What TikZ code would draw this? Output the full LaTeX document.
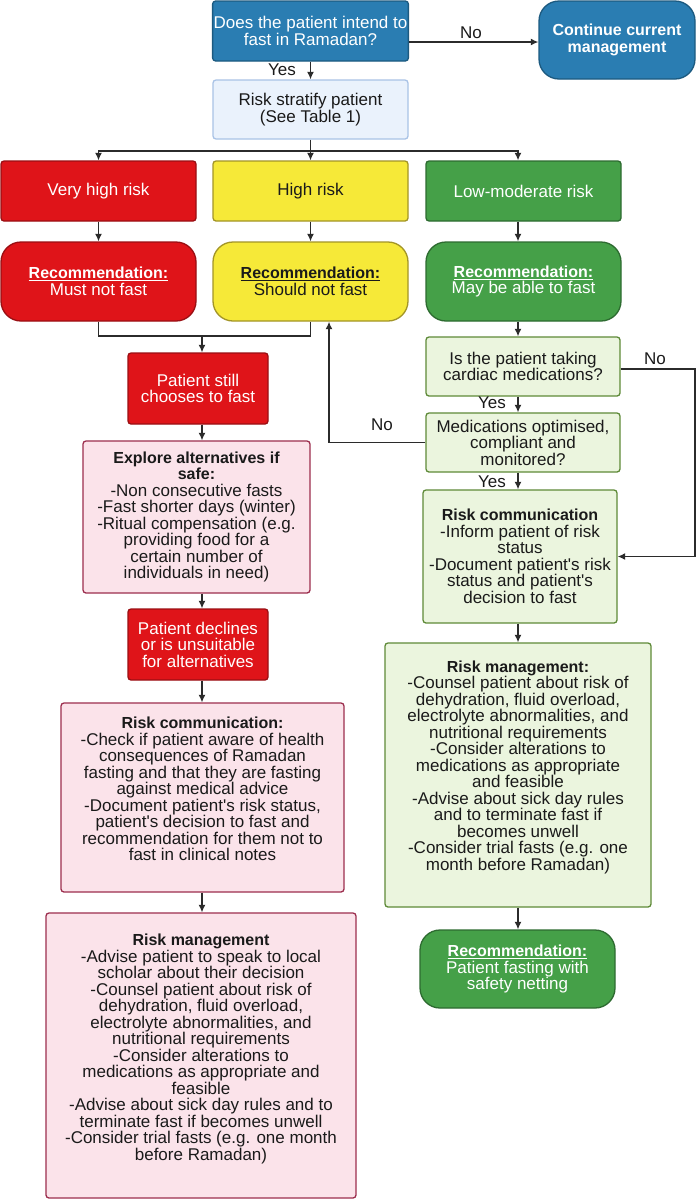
\documentclass[tikz,border=0pt]{standalone}
\usepackage{fontspec}
\newfontfamily\bodyfont{Liberation Sans}
\usetikzlibrary{arrows.meta}
\definecolor{txtC}{HTML}{1A1A1A}
\definecolor{lineC}{HTML}{2B2B2B}
\definecolor{blueF}{HTML}{2A7DB2}
\definecolor{blueD}{HTML}{1C5A80}
\definecolor{lblueF}{HTML}{EAF2FC}
\definecolor{lblueD}{HTML}{A9C3E6}
\definecolor{redF}{HTML}{DF1419}
\definecolor{redD}{HTML}{9A0F13}
\definecolor{yelF}{HTML}{F6E938}
\definecolor{yelD}{HTML}{A39527}
\definecolor{grnF}{HTML}{45A048}
\definecolor{grnD}{HTML}{2D6B30}
\definecolor{lgrnF}{HTML}{EBF5DE}
\definecolor{lgrnD}{HTML}{5E8A38}
\definecolor{pinkF}{HTML}{FBE3EA}
\definecolor{pinkD}{HTML}{9C2E4E}
\newcommand\myfs{\bodyfont\fontsize{17}{16.5}\selectfont}
\newcommand\hb[1]{{\fontsize{16}{16.5}\selectfont\textbf{#1}}}
\tikzset{
  box/.style={draw, line width=1.3pt, rounded corners=3pt, align=center, inner sep=1pt, font=\myfs, text=txtC},
  rbox/.style={box, rounded corners=20pt},
  wh/.style 2 args={minimum width=#1pt, minimum height=#2pt},
  tx/.style={align=center, inner sep=0pt, font=\myfs, text=txtC},
  ln/.style={line width=1.4pt, draw=lineC},
  arr/.style={ln, -{Latex[length=7.5pt,width=7pt]}},
  lab/.style={inner sep=0pt, font=\myfs, text=txtC}
}
\begin{document}
\begin{tikzpicture}[x=1pt,y=-1pt]
\useasboundingbox (0,0) rectangle (697,1200);
\fill[white] (0,0) rectangle (697,1200);

% top row
\node[box, wh={195}{60}, fill=blueF, draw=blueD, text=white] (top) at (310.5,31) {Does the patient intend to\\fast in Ramadan?};
\node[rbox, wh={156}{78}, fill=blueF, draw=blueD, text=white, font=\bodyfont\fontsize{16}{17}\selectfont\bfseries] (cont) at (617,40) {Continue current\\management};
\node[box, wh={195}{59}, fill=lblueF, draw=lblueD] (strat) at (310.5,109.5) {Risk stratify patient\\(See Table 1)};

% risk levels
\node[box, wh={195}{60}, fill=redF, draw=redD, text=white] (vh) at (98.5,191) {Very high risk};
\node[box, wh={195}{60}, fill=yelF, draw=yelD] (hi) at (310.5,191) {High risk};
\node[box, wh={195}{60}, fill=grnF, draw=grnD, text=white] (lm) at (523.5,191) {Low-moderate risk};

\node[rbox, wh={195}{79}, fill=redF, draw=redD, text=white] (vhrec) at (98.5,281.5) {\underline{\hb{Recommendation:}}\\Must not fast};
\node[rbox, wh={195}{79}, fill=yelF, draw=yelD] (hirec) at (310.5,281.5) {\underline{\hb{Recommendation:}}\\Should not fast};
\node[rbox, wh={195}{79}, fill=grnF, draw=grnD, text=white] (lmrec) at (523.5,281.5) {\underline{\hb{Recommendation:}}\\May be able to fast};

% right column
\node[box, wh={194}{59}, fill=lgrnF, draw=lgrnD] (cardiac) at (523,366.5) {Is the patient taking\\cardiac medications?};
\node[box, wh={194}{59}, fill=lgrnF, draw=lgrnD] (medopt) at (523,442.5) {Medications optimised,\\compliant and\\monitored?};
\node[box, wh={194}{133}, fill=lgrnF, draw=lgrnD] (rcR) at (520,556.5) {\hb{Risk communication}\\-Inform patient of risk\\status\\-Document patient's risk\\status and patient's\\decision to fast};
\node[box, wh={266}{264}, fill=lgrnF, draw=lgrnD] (rmR) at (518,775) {};
\node[tx] (rmRt) at (518,767) {\hb{Risk management:}\\-Counsel patient about risk of\\dehydration, fluid overload,\\electrolyte abnormalities, and\\nutritional requirements\\-Consider alterations to\\medications as appropriate\\and feasible\\-Advise about sick day rules\\and to terminate fast if\\becomes unwell\\-Consider trial fasts (e.g. one\\month before Ramadan)};
\node[rbox, wh={195}{78}, fill=grnF, draw=grnD, text=white] (recF) at (517.5,969) {\underline{\hb{Recommendation:}}\\Patient fasting with\\safety netting};

% left column
\node[box, wh={140}{71}, fill=redF, draw=redD, text=white] (still) at (198,388.5) {Patient still\\chooses to fast};
\node[box, wh={227}{152}, fill=pinkF, draw=pinkD] (explore) at (196.5,517) {\hb{Explore alternatives if}\\\hb{safe:}\\-Non consecutive fasts\\-Fast shorter days (winter)\\-Ritual compensation (e.g.\\providing food for a\\certain number of\\individuals in need)};
\node[box, wh={140}{71}, fill=redF, draw=redD, text=white] (declines) at (198,644.5) {Patient declines\\or is unsuitable\\for alternatives};
\node[box, wh={283}{189}, fill=pinkF, draw=pinkD] (rcL) at (202.5,797.5) {};
\node[tx] (rcLt) at (202.5,789) {\hb{Risk communication:}\\-Check if patient aware of health\\consequences of Ramadan\\fasting and that they are fasting\\against medical advice\\-Document patient's risk status,\\patient's decision to fast and\\recommendation for them not to\\fast in clinical notes};
\node[box, wh={310}{285}, fill=pinkF, draw=pinkD] (rmL) at (201,1055.5) {};
\node[tx] (rmLt) at (201,1049) {\hb{Risk management}\\-Advise patient to speak to local\\scholar about their decision\\-Counsel patient about risk of\\dehydration, fluid overload,\\electrolyte abnormalities, and\\nutritional requirements\\-Consider alterations to\\medications as appropriate and\\feasible\\-Advise about sick day rules and to\\terminate fast if becomes unwell\\-Consider trial fasts (e.g. one month\\before Ramadan)};

% helper coordinates
\coordinate (colL) at (202,0);
\coordinate (colR) at (518,0);
\coordinate (split) at (310.5,151);
\coordinate (mrg) at (202,336);
\coordinate (rr) at (695,0);

% connectors
\draw[arr] ([yshift=-11pt]top.east) -- ([yshift=-11pt]top.east -| cont.west);
\node[lab] (lno1) at (471,33) {No};
\draw[arr] (top.south) -- (strat.north);
\node[lab] (lyes1) at (282,70) {Yes};
\draw[ln] (strat.south) -- (split);
\draw[arr] (split) -| (vh.north);
\draw[arr] (split) -- (hi.north);
\draw[arr] (split) -| (lm.north -| colR);

\draw[arr] (vh.south) -- (vhrec.north);
\draw[arr] (hi.south) -- (hirec.north);
\draw[arr] (lm.south -| colR) -- (lmrec.north -| colR);

\draw[ln] (vhrec.south) |- (hirec.south |- mrg) -- (hirec.south);
\draw[arr] (mrg) -- (still.north -| mrg);
\draw[arr] (still.south -| colL) -- (explore.north -| colL);
\draw[arr] (explore.south -| colL) -- (declines.north -| colL);
\draw[arr] (declines.south -| colL) -- (rcL.north -| colL);
\draw[arr] (rcL.south -| colL) -- (rmL.north -| colL);

\draw[arr] (lmrec.south -| colR) -- (cardiac.north -| colR);
\draw[arr] (cardiac.south -| colR) -- (medopt.north -| colR);
\node[lab] (lyes2) at (492,403) {Yes};
\draw[arr] (medopt.south -| colR) -- (rcR.north -| colR);
\node[lab] (lyes3) at (492,482) {Yes};
\draw[arr] ([yshift=-2.5pt]cardiac.east) -| (rr |- rcR.east) -- (rcR.east);
\node[lab] (lno2) at (655,359) {No};
\draw[arr] (medopt.west) -| ([xshift=18.5pt]hirec.south);
\node[lab] (lno3) at (382,425) {No};
\draw[arr] (rcR.south -| colR) -- (rmR.north -| colR);
\draw[arr] (rmR.south -| colR) -- (recF.north -| colR);
\end{tikzpicture}
\end{document}
